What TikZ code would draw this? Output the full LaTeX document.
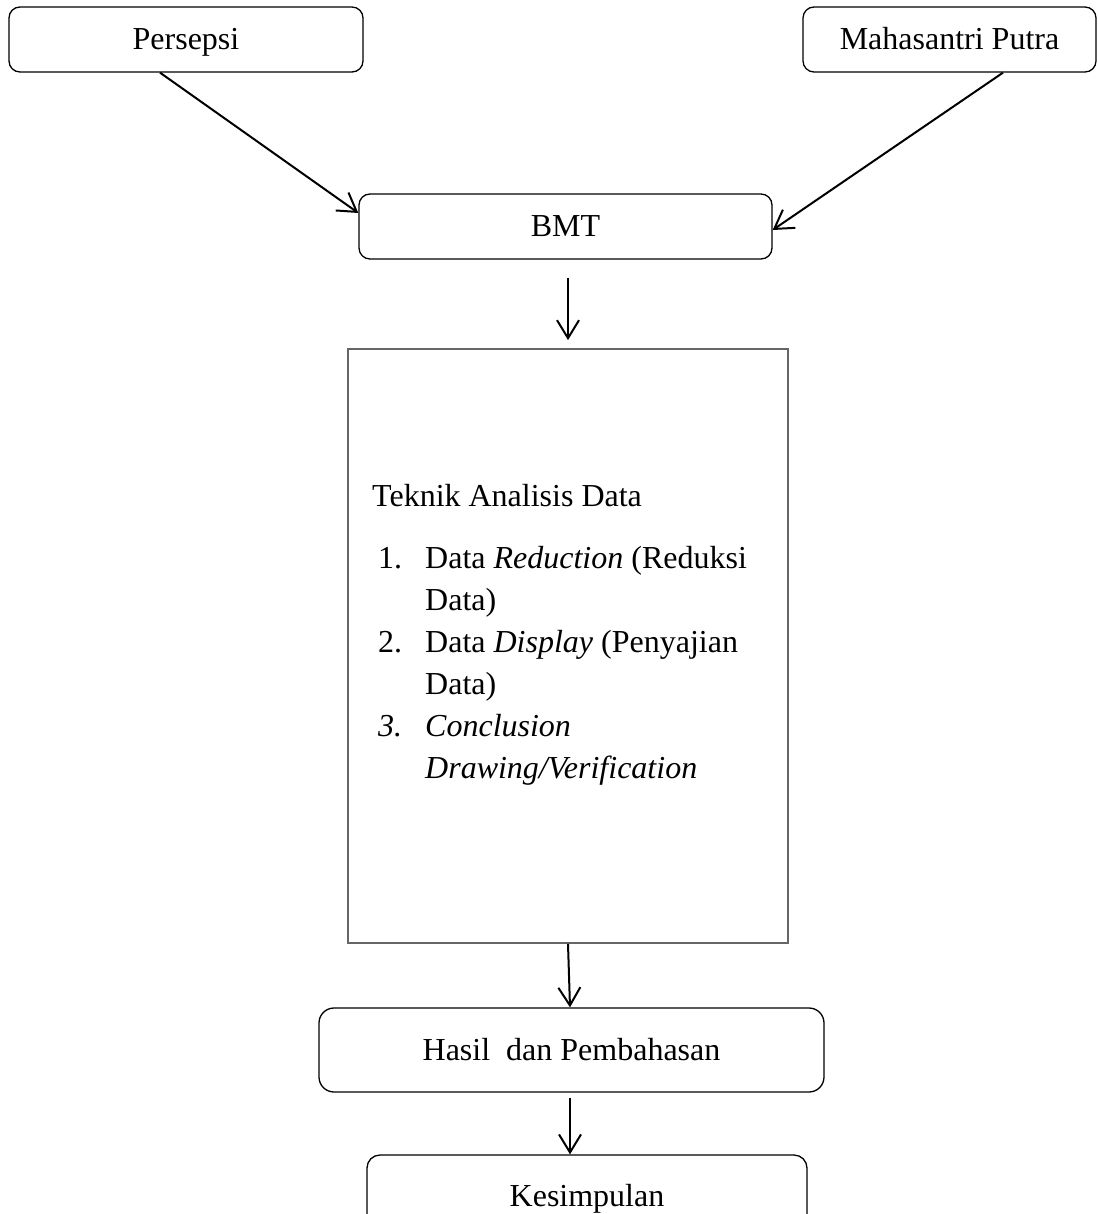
\documentclass[tikz,border=0pt]{standalone}
\usepackage{fontspec}
\setmainfont{Liberation Serif}
\usetikzlibrary{arrows.meta,calc}
\begin{document}
\begin{tikzpicture}[x=1pt,y=-1pt,
  rbox/.style={draw=black, line width=1.3pt, rounded corners=11pt, inner sep=0pt,
    text height=21pt, text depth=0pt, font=\fontsize{32}{42}\selectfont},
  bigbox/.style={draw=black!60, line width=1.8pt, inner sep=0pt},
  flow/.style={-{Straight Barb[length=18pt,width=22pt,line width=2pt]}, line width=2pt},
  txt/.style={inner sep=0pt, anchor=base west, font=\fontsize{32}{42}\selectfont}]
\useasboundingbox (0,0) rectangle (1097,1214);
% boxes
\node[rbox, minimum width=354pt, minimum height=65pt] (persepsi) at (186,39.5) {Persepsi};
\node[rbox, minimum width=293pt, minimum height=65pt] (mahasantri) at (949.5,39.5) {Mahasantri Putra};
\node[rbox, minimum width=413pt, minimum height=65pt] (bmt) at (565.5,226.5) {BMT};
\node[bigbox, minimum width=440pt, minimum height=594pt] (analisis) at (568,646) {};
\node[rbox, rounded corners=15pt, minimum width=505pt, minimum height=84pt] (hasil) at (571.5,1050) {Hasil\ \ dan Pembahasan};
\node[rbox, rounded corners=13pt, minimum width=440pt, minimum height=82pt] (kesimpulan) at (587,1196) {Kesimpulan};
% text of the analysis box
\node[txt] (t0) at (372,506) {Teknik Analisis Data};
\node[txt] (n1) at (378,568) {1.};
\node[txt] (l1) at (425,568) {Data \textit{Reduction} (Reduksi};
\node[txt] (l1b) at (425,610) {Data)};
\node[txt] (n2) at (378,652) {2.};
\node[txt] (l2) at (425,652) {Data \textit{Display} (Penyajian};
\node[txt] (l2b) at (425,694) {Data)};
\node[txt] (n3) at (378,736) {\textit{3.}};
\node[txt] (l3) at (425,736) {\textit{Conclusion}};
\node[txt] (l3b) at (425,778) {\textit{Drawing/Verification}};
% connectors
\draw[flow] ([xshift=-26pt]persepsi.south) -- ([yshift=13.5pt]bmt.west);
\draw[flow] ([xshift=53.5pt]mahasantri.south) -- ([yshift=-3.5pt]bmt.east);
\draw[flow] ([xshift=2.5pt,yshift=-18pt]bmt.south) -- ([yshift=8pt]analisis.north);
\draw[flow] (analisis.south) -- ([xshift=-1.5pt]hasil.north);
\draw[flow] ([xshift=-1.5pt,yshift=-5pt]hasil.south) -- ([xshift=-17pt]kesimpulan.north);
\end{tikzpicture}
\end{document}
